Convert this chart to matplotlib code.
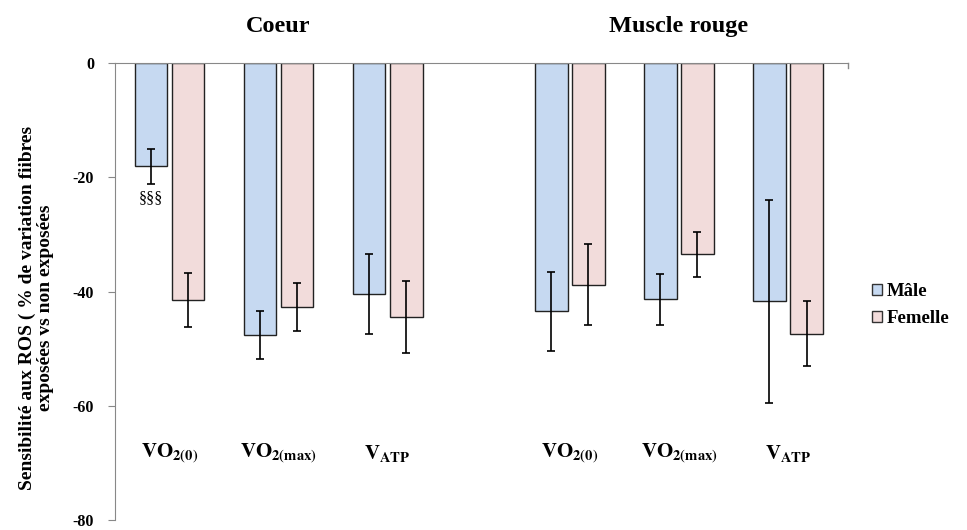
import numpy as np
import matplotlib
matplotlib.use('Agg')
import matplotlib.pyplot as plt
from matplotlib.patches import Patch

plt.rcParams['font.family'] = ['Liberation Serif', 'DejaVu Serif']
plt.rcParams['mathtext.fontset'] = 'stix'

# donnees
groupes = ['Coeur', 'Muscle rouge']
params = [r'$\mathbf{VO_{2(0)}}$', r'$\mathbf{VO_{2(max)}}$', r'$\mathbf{V_{ATP}}$']
male = [-18.1, -47.6, -40.4, -43.5, -41.4, -41.7]
male_err = [3.0, 4.2, 7.0, 6.9, 4.4, 17.8]
femelle = [-41.5, -42.7, -44.4, -38.8, -33.5, -47.4]
femelle_err = [4.8, 4.2, 6.3, 7.1, 3.9, 5.7]

c_male = '#C6D9F1'
c_fem = '#F2DCDB'


def main():
    fig = plt.figure(figsize=(9.67, 5.30), dpi=100)
    ax = fig.add_axes([0.1189, 0.0189, 0.7580, 0.8622])

    # position des groupes (trou entre coeur et muscle)
    x = np.array([0, 1, 2, 3.67, 4.67, 5.67])
    w = 0.30
    ekw = dict(ecolor='k', elinewidth=1.2, capsize=3, capthick=1.2)
    ax.bar(x - 0.17, male, w, color=c_male, edgecolor='#222222', linewidth=1.0,
           yerr=male_err, error_kw=ekw, zorder=2)
    ax.bar(x + 0.17, femelle, w, color=c_fem, edgecolor='#222222', linewidth=1.0,
           yerr=femelle_err, error_kw=ekw, zorder=2)

    ax.set_xlim(-0.5, 6.22)
    ax.set_ylim(-80, 0)
    ax.set_yticks(np.arange(-80, 1, 20))
    ax.set_yticklabels([str(v) for v in np.arange(-80, 1, 20)], fontsize=11.5, fontweight='bold')
    ax.tick_params(axis='y', direction='out', length=5, color='#888888', pad=10)
    ax.set_xticks([])

    for s in ['right', 'bottom']:
        ax.spines[s].set_visible(False)
    ax.spines['left'].set_color('#888888')
    ax.spines['top'].set_color('#888888')
    ax.plot([6.22, 6.22], [0, -0.8], color='#888888', lw=1, clip_on=False)

    # etiquettes des parametres
    for i, xi in enumerate(x):
        ax.text(xi, -68.3, params[i % 3], ha='center', va='center', fontsize=15)

    ax.text(1, 6.4, groupes[0], ha='center', va='center', fontsize=17.5, fontweight='bold')
    ax.text(4.67, 6.4, groupes[1], ha='center', va='center', fontsize=17.5, fontweight='bold')

    ax.text(x[0] - 0.17, -23.6, '§§§', ha='center', va='center', fontsize=11.5)

    ax.set_ylabel('Sensibilité aux ROS ( % de variation fiibres\nexposées vs non exposées',
                  fontsize=14, fontweight='bold', linespacing=1.05)
    ax.yaxis.set_label_coords(-0.083, 0.465)

    handles = [Patch(facecolor=c_male, edgecolor='#333333', label='Mâle'),
               Patch(facecolor=c_fem, edgecolor='#333333', label='Femelle')]
    fig.legend(handles=handles, loc='center left', bbox_to_anchor=(0.884, 0.424),
               frameon=False, prop={'weight': 'bold', 'size': 13.5},
               handlelength=0.55, handleheight=0.55, handletextpad=0.25, labelspacing=0.55)

    fig.savefig('out.png', dpi=100)


if __name__ == '__main__':
    main()
